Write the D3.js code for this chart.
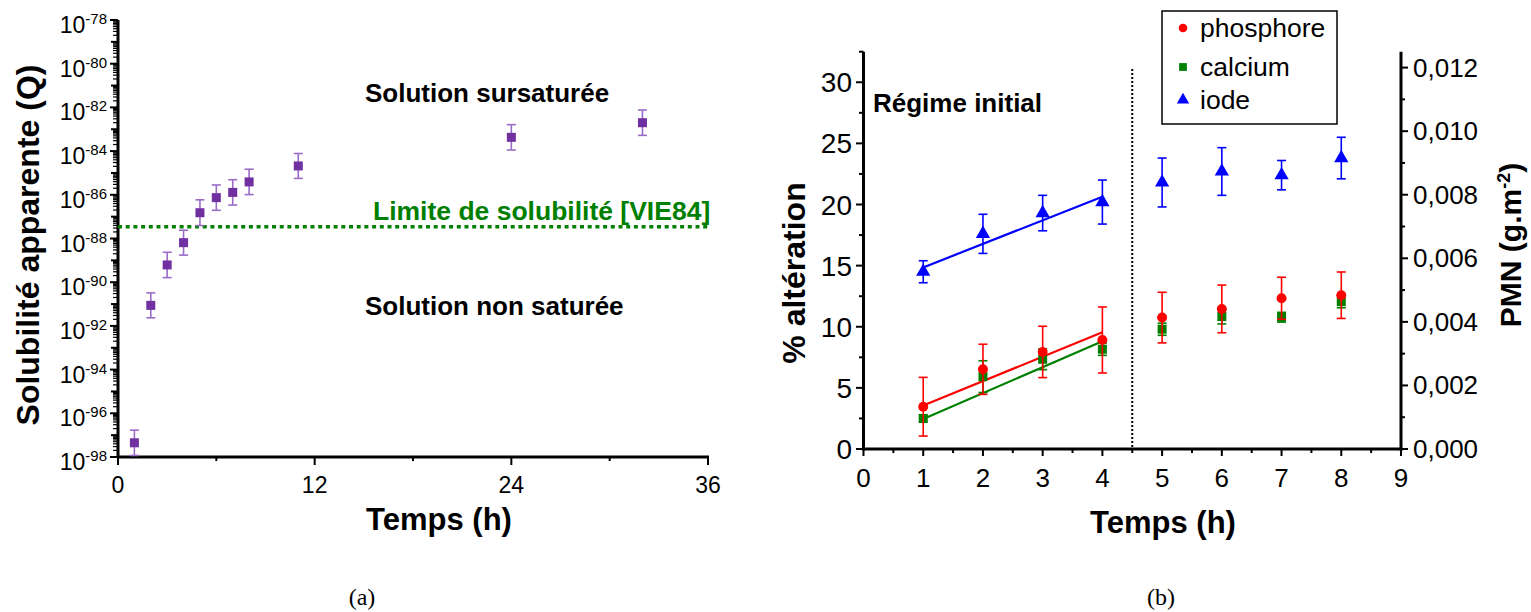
<!DOCTYPE html>
<html>
<head>
<meta charset="utf-8">
<script src="https://cdn.jsdelivr.net/npm/d3@7"></script>
<style>
body { margin: 0; background: #fff; }
svg text { font-family: "Liberation Sans", Arial, sans-serif; }
</style>
</head>
<body>
<svg id="fig" width="1531" height="612"></svg>
<script>
// ---- chart (a) data : apparent solubility vs time
var tempsA = [1, 2, 3, 4, 5, 6, 7, 8, 11, 24, 32];
var logQ = [-97.35, -91.06, -89.21, -88.19, -86.82, -86.13, -85.89, -85.41, -84.68, -83.37, -82.70];
var errLogQ = [0.58, 0.57, 0.58, 0.57, 0.59, 0.58, 0.58, 0.58, 0.57, 0.58, 0.58];
var limiteLogQ = -87.46;
var yTickExpA = [-78, -80, -82, -84, -86, -88, -90, -92, -94, -96, -98];
var xTicksA = [0, 12, 24, 36];

// ---- chart (b) data : % alteration vs time
var tempsB = [1, 2, 3, 4, 5, 6, 7, 8];
var phosphore = [3.46, 6.52, 7.94, 8.92, 10.75, 11.46, 12.33, 12.58];
var errPhosphore = [2.4, 2.05, 2.1, 2.7, 2.07, 1.95, 1.72, 1.9];
var calcium = [2.5, 5.92, 7.34, 8.16, 9.8, 10.83, 10.78, 12.05];
var errCalcium = [0.3, 1.3, 0.85, 0.5, 0.5, 0.6, 0.4, 0.5];
var iode = [14.5, 17.6, 19.3, 20.2, 21.8, 22.7, 22.4, 23.8];
var errIode = [0.9, 1.6, 1.45, 1.8, 2.0, 1.95, 1.2, 1.7];
// linear fits over the initial regime (t = 1..4)
var fitNames = ["phosphore", "calcium", "iode"];
var fitSlope = [2.0, 2.12, 1.93];
var fitIntercept = [1.55, 0.33, 12.92];
var fitRange = [1, 4];
var yTicksB = [0, 5, 10, 15, 20, 25, 30];
var yTicksPMN = [0, 0.002, 0.004, 0.006, 0.008, 0.010, 0.012];
var xTicksB = [0, 1, 2, 3, 4, 5, 6, 7, 8, 9];

var svg = d3.select("#fig");
svg.append("rect").attr("width", 1531).attr("height", 612).attr("fill", "#fff");

function txt(g, x, y, s, size, opts) {
	opts = opts || {};
	var t = g.append("text")
		.attr("transform", "translate(" + x + "," + y + ")" + (opts.rot ? " rotate(" + opts.rot + ")" : ""))
		.attr("font-size", size)
		.attr("font-weight", opts.bold ? "bold" : "normal")
		.attr("text-anchor", opts.anchor || "start")
		.attr("fill", opts.color || "#000")
		.text(s);
	if (opts.family) t.style("font-family", opts.family);
	return t;
}

// ================= chart (a) =================
var gA = svg.append("g");
var xA = d3.scaleLinear().domain([0, 36]).range([118, 708]);
var yA = d3.scaleLog().domain([1e-98, 1e-78]).range([457, 20]);
var purple = "#7030a0";

// minor log ticks
var minorA = [];
for (var e = -98; e < -78; e++) {
	for (var k = 2; k <= 9; k++) minorA.push(k * Math.pow(10, e));
}
gA.selectAll(".mnA").data(minorA).enter().append("line")
	.attr("x1", 118).attr("x2", 113)
	.attr("y1", function(d) { return yA(d); })
	.attr("y2", function(d) { return yA(d); })
	.attr("stroke", "#000").attr("stroke-width", 1.2);
var decA = d3.range(-98, -77);
gA.selectAll(".dcA").data(decA).enter().append("line")
	.attr("x1", 118)
	.attr("x2", function(d) { return d % 2 == 0 ? 110 : 111; })
	.attr("y1", function(d) { return yA(Math.pow(10, d)); })
	.attr("y2", function(d) { return yA(Math.pow(10, d)); })
	.attr("stroke", "#000").attr("stroke-width", 2);

// y tick labels 10^n
yTickExpA.forEach(function(ex) {
	var yy = yA(Math.pow(10, ex));
	var t = gA.append("text")
		.attr("x", 107).attr("y", yy + 13)
		.attr("text-anchor", "end")
		.attr("font-size", 23);
	t.append("tspan").text("10");
	t.append("tspan").attr("font-size", 15).attr("dy", -9).text(ex);
});

// x axis ticks
gA.selectAll(".xtA").data(d3.range(0, 37, 6)).enter().append("line")
	.attr("x1", function(d) { return xA(d); })
	.attr("x2", function(d) { return xA(d); })
	.attr("y1", 457)
	.attr("y2", function(d) { return d % 12 == 0 ? 465 : 461; })
	.attr("stroke", "#000").attr("stroke-width", 2);
xTicksA.forEach(function(v) {
	txt(gA, xA(v), 493, v, 23, {anchor: "middle"});
});

// spines
gA.append("line").attr("x1", 118).attr("x2", 118).attr("y1", 20).attr("y2", 458)
	.attr("stroke", "#000").attr("stroke-width", 3);
gA.append("line").attr("x1", 117).attr("x2", 709).attr("y1", 457).attr("y2", 457)
	.attr("stroke", "#000").attr("stroke-width", 3);

// solubility limit
gA.append("line")
	.attr("x1", xA(0)).attr("x2", 710)
	.attr("y1", yA(Math.pow(10, limiteLogQ))).attr("y2", yA(Math.pow(10, limiteLogQ)))
	.attr("stroke", "#008000").attr("stroke-width", 3.5)
	.attr("stroke-dasharray", "4,3.7");
txt(gA, 373, 220, "Limite de solubilité [VIE84]", 26.5, {bold: true, color: "#008000"});
txt(gA, 365, 102, "Solution sursaturée", 26, {bold: true});
txt(gA, 365, 315, "Solution non saturée", 26, {bold: true});

// error bars + markers
var ptsA = tempsA.map(function(t, i) { return {t: t, v: logQ[i], e: errLogQ[i]}; });
var eb = gA.selectAll(".ebA").data(ptsA).enter().append("g").attr("stroke", "#9a6cc8").attr("stroke-width", 1.6);
eb.append("line")
	.attr("x1", function(d) { return xA(d.t); }).attr("x2", function(d) { return xA(d.t); })
	.attr("y1", function(d) { return yA(Math.pow(10, d.v + d.e)); })
	.attr("y2", function(d) { return yA(Math.pow(10, d.v - d.e)); });
[1, -1].forEach(function(s) {
	eb.append("line")
		.attr("x1", function(d) { return xA(d.t) - 4.5; }).attr("x2", function(d) { return xA(d.t) + 4.5; })
		.attr("y1", function(d) { return yA(Math.pow(10, d.v + s * d.e)); })
		.attr("y2", function(d) { return yA(Math.pow(10, d.v + s * d.e)); });
});
gA.selectAll(".mkA").data(ptsA).enter().append("rect")
	.attr("x", function(d) { return xA(d.t) - 4.5; })
	.attr("y", function(d) { return yA(Math.pow(10, d.v)) - 4.5; })
	.attr("width", 9).attr("height", 9)
	.attr("fill", purple);

txt(gA, 39, 245, "Solubilité apparente (Q)", 32, {bold: true, rot: -90, anchor: "middle"});
txt(gA, 439, 530, "Temps (h)", 31, {bold: true, anchor: "middle"});
txt(gA, 362, 605, "(a)", 24, {anchor: "middle", family: "'Liberation Serif', 'Times New Roman', serif"});

// ================= chart (b) =================
var gB = svg.append("g");
var xB = d3.scaleLinear().domain([0, 9]).range([863.5, 1401]);
var yB = d3.scaleLinear().domain([0, 32.5]).range([449, 51.7]);
var yPMN = d3.scaleLinear().domain([0, 0.0125]).range([449, 51.7]);

// left axis ticks
gB.selectAll(".ytB").data(d3.range(0, 32.6, 2.5)).enter().append("line")
	.attr("x1", 863.5)
	.attr("x2", function(d) { return d % 5 == 0 ? 856 : 859; })
	.attr("y1", function(d) { return yB(d); }).attr("y2", function(d) { return yB(d); })
	.attr("stroke", "#000").attr("stroke-width", 2);
yTicksB.forEach(function(v) {
	txt(gB, 852, yB(v) + 10, v, 28, {anchor: "end"});
});
// right axis ticks
gB.selectAll(".ytP").data(d3.range(0, 13)).enter().append("line")
	.attr("x1", 1401)
	.attr("x2", function(d) { return d % 2 == 0 ? 1408 : 1405; })
	.attr("y1", function(d) { return yPMN(d * 0.001); }).attr("y2", function(d) { return yPMN(d * 0.001); })
	.attr("stroke", "#000").attr("stroke-width", 2);
yTicksPMN.forEach(function(v) {
	txt(gB, 1413, yPMN(v) + 9, d3.format(".3f")(v).replace(".", ","), 26);
});
// x axis ticks
gB.selectAll(".xtB").data(d3.range(0, 9.01, 0.5)).enter().append("line")
	.attr("x1", function(d) { return xB(d); }).attr("x2", function(d) { return xB(d); })
	.attr("y1", 449)
	.attr("y2", function(d) { return d % 1 == 0 ? 456 : 453; })
	.attr("stroke", "#000").attr("stroke-width", 2);
xTicksB.forEach(function(v) {
	txt(gB, xB(v), 487, v, 26, {anchor: "middle"});
});

// spines
gB.append("line").attr("x1", 863.5).attr("x2", 863.5).attr("y1", 51.7).attr("y2", 450.5)
	.attr("stroke", "#000").attr("stroke-width", 3);
gB.append("line").attr("x1", 1401).attr("x2", 1401).attr("y1", 51.7).attr("y2", 450.5)
	.attr("stroke", "#000").attr("stroke-width", 3);
gB.append("line").attr("x1", 862).attr("x2", 1402.5).attr("y1", 449).attr("y2", 449)
	.attr("stroke", "#000").attr("stroke-width", 3);

// regime separator
gB.append("line").attr("x1", xB(4.5)).attr("x2", xB(4.5)).attr("y1", 69).attr("y2", 449)
	.attr("stroke", "#000").attr("stroke-width", 2).attr("stroke-dasharray", "2,2");
txt(gB, 873, 112, "Régime initial", 26, {bold: true});

var series = [
	{name: "calcium", vals: calcium, err: errCalcium, color: "#008000", sym: d3.symbolSquare, size: 81},
	{name: "phosphore", vals: phosphore, err: errPhosphore, color: "#ff0000", sym: d3.symbolCircle, size: 78},
	{name: "iode", vals: iode, err: errIode, color: "#0000ff", sym: d3.symbolTriangle, size: 88}
];

// fit lines
series.forEach(function(s) {
	var i = fitNames.indexOf(s.name);
	var line = d3.line()
		.x(function(d) { return xB(d); })
		.y(function(d) { return yB(fitSlope[i] * d + fitIntercept[i]); });
	gB.append("path").attr("d", line(fitRange))
		.attr("fill", "none").attr("stroke", s.color).attr("stroke-width", 2.2);
});

series.forEach(function(s) {
	var pts = tempsB.map(function(t, i) { return {t: t, v: s.vals[i], e: s.err[i]}; });
	var g = gB.append("g");
	var eg = g.selectAll("g").data(pts).enter().append("g")
		.attr("stroke", s.color).attr("stroke-width", 1.6);
	eg.append("line")
		.attr("x1", function(d) { return xB(d.t); }).attr("x2", function(d) { return xB(d.t); })
		.attr("y1", function(d) { return yB(d.v + d.e); }).attr("y2", function(d) { return yB(d.v - d.e); });
	[1, -1].forEach(function(k) {
		eg.append("line")
			.attr("x1", function(d) { return xB(d.t) - 4.5; }).attr("x2", function(d) { return xB(d.t) + 4.5; })
			.attr("y1", function(d) { return yB(d.v + k * d.e); }).attr("y2", function(d) { return yB(d.v + k * d.e); });
	});
	g.selectAll("path.mk").data(pts).enter().append("path")
		.attr("class", "mk")
		.attr("d", d3.symbol().type(s.sym).size(s.size))
		.attr("transform", function(d) { return "translate(" + xB(d.t) + "," + yB(d.v) + ")"; })
		.attr("fill", s.color);
});

// legend
var leg = gB.append("g");
leg.append("rect").attr("x", 1162).attr("y", 11).attr("width", 175).attr("height", 113)
	.attr("fill", "#fff").attr("stroke", "#000").attr("stroke-width", 1.5);
var legItems = [series[1], series[0], series[2]];
var legY = [28, 67, 100];
legItems.forEach(function(s, i) {
	leg.append("path")
		.attr("d", d3.symbol().type(s.sym).size(s.size * 0.75))
		.attr("transform", "translate(1183," + legY[i] + ")")
		.attr("fill", s.color);
	txt(leg, 1200, legY[i] + 9, s.name, 26.5);
});

txt(gB, 805, 273, "% altération", 32, {bold: true, rot: -90, anchor: "middle"});
var pmn = gB.append("text")
	.attr("transform", "translate(1521,245) rotate(-90)")
	.attr("text-anchor", "middle")
	.attr("font-size", 30).attr("font-weight", "bold");
pmn.append("tspan").text("PMN (g.m");
pmn.append("tspan").attr("font-size", 18).attr("dy", -11).text("-2");
pmn.append("tspan").attr("dy", 11).text(")");
txt(gB, 1163, 533, "Temps (h)", 31, {bold: true, anchor: "middle"});
txt(gB, 1161, 605, "(b)", 24, {anchor: "middle", family: "'Liberation Serif', 'Times New Roman', serif"});
</script>
</body>
</html>
